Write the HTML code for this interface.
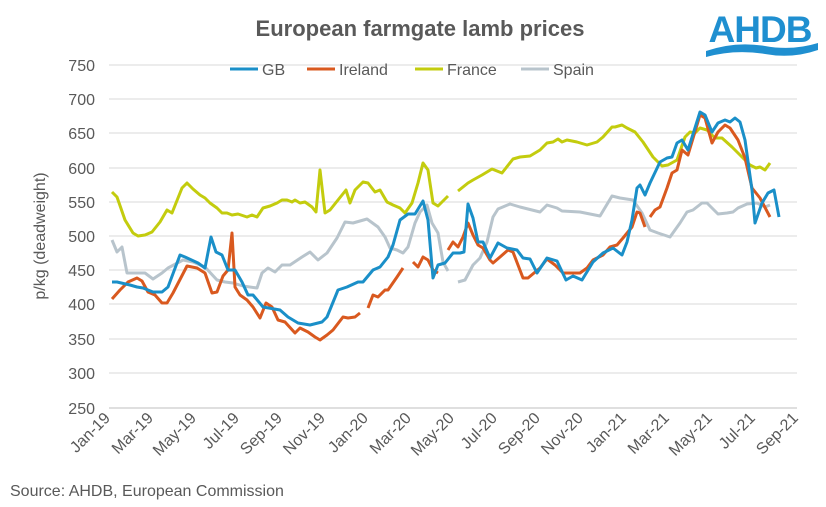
<!DOCTYPE html>
<html><head><meta charset="utf-8"><style>
body{margin:0;background:#fff;}
svg{display:block;font-family:"Liberation Sans",Arial,sans-serif;}
</style></head><body>
<svg width="826" height="507" viewBox="0 0 826 507" xmlns="http://www.w3.org/2000/svg">
<rect width="826" height="507" fill="#fff"/>
<text x="420" y="36" text-anchor="middle" font-size="22" font-weight="bold" fill="#595959">European farmgate lamb prices</text>
<!-- logo -->
<text x="760" y="42" text-anchor="middle" font-size="37" font-weight="bold" fill="#1f8fd0" letter-spacing="-1">AHDB</text>
<path d="M706 51 Q735 41 765 46 Q792 51 818 43 L818 50 Q792 59 765 54 Q735 49 706 57 Z" fill="#1f8fd0"/>
<!-- grid -->
<g stroke="#d9d9d9" stroke-width="1">
<line x1="109" y1="65" x2="797" y2="65"/><line x1="109" y1="99" x2="797" y2="99"/>
<line x1="109" y1="133" x2="797" y2="133"/><line x1="109" y1="168" x2="797" y2="168"/>
<line x1="109" y1="202" x2="797" y2="202"/><line x1="109" y1="236" x2="797" y2="236"/>
<line x1="109" y1="270" x2="797" y2="270"/><line x1="109" y1="304" x2="797" y2="304"/>
<line x1="109" y1="339" x2="797" y2="339"/><line x1="109" y1="373" x2="797" y2="373"/>
</g>
<line x1="109" y1="408" x2="797" y2="408" stroke="#bfbfbf"/>
<g font-size="16" fill="#595959" text-anchor="end">
<text x="95" y="71">750</text><text x="95" y="105">700</text><text x="95" y="139">650</text>
<text x="95" y="174">600</text><text x="95" y="208">550</text><text x="95" y="242">500</text>
<text x="95" y="276">450</text><text x="95" y="310">400</text><text x="95" y="345">350</text>
<text x="95" y="379">300</text><text x="95" y="414">250</text>
</g>
<text transform="translate(45,236) rotate(-90)" text-anchor="middle" font-size="16" fill="#595959">p/kg (deadweight)</text>
<g font-size="16" fill="#595959" text-anchor="end">
<text transform="translate(111,419) rotate(-45)">Jan-19</text>
<text transform="translate(154,419) rotate(-45)">Mar-19</text>
<text transform="translate(197,419) rotate(-45)">May-19</text>
<text transform="translate(240,419) rotate(-45)">Jul-19</text>
<text transform="translate(283,419) rotate(-45)">Sep-19</text>
<text transform="translate(326,419) rotate(-45)">Nov-19</text>
<text transform="translate(369,419) rotate(-45)">Jan-20</text>
<text transform="translate(412,419) rotate(-45)">Mar-20</text>
<text transform="translate(455,419) rotate(-45)">May-20</text>
<text transform="translate(498,419) rotate(-45)">Jul-20</text>
<text transform="translate(541,419) rotate(-45)">Sep-20</text>
<text transform="translate(584,419) rotate(-45)">Nov-20</text>
<text transform="translate(627,419) rotate(-45)">Jan-21</text>
<text transform="translate(670,419) rotate(-45)">Mar-21</text>
<text transform="translate(713,419) rotate(-45)">May-21</text>
<text transform="translate(756,419) rotate(-45)">Jul-21</text>
<text transform="translate(799,419) rotate(-45)">Sep-21</text>
</g>
<text x="10" y="496" font-size="16" fill="#595959">Source: AHDB, European Commission</text>
<!-- legend -->
<g font-size="16" fill="#595959">
<line x1="230" y1="69" x2="258" y2="69" stroke="#1a8fc8" stroke-width="3"/><text x="262" y="75">GB</text>
<line x1="307" y1="69" x2="335" y2="69" stroke="#d9591f" stroke-width="3"/><text x="339" y="75">Ireland</text>
<line x1="415" y1="69" x2="443" y2="69" stroke="#c3cc0e" stroke-width="3"/><text x="447" y="75">France</text>
<line x1="521" y1="69" x2="549" y2="69" stroke="#b8c4cc" stroke-width="3"/><text x="553" y="75">Spain</text>
</g>
<g fill="none" stroke-width="3" stroke-linejoin="round">
<g stroke="#b8c4cc">
<polyline points="112,240 117,252 122,247 127,273 137,273 145,273 153,279 162,273 168,268 183,260 193,262 205,267 217,280 225,282 233,283 243,286 257,288 262,273 268,268 275,272 282,265 290,265 302,257 310,252 318,260 327,253 337,238 345,222 353,223 367,219 378,227 385,237 390,248 397,250 403,253 408,247 415,223 420,212 427,205 432,223 438,233 443,262 448,271"/>
<polyline points="458,282 465,280 473,265 480,258 487,242 493,217 498,209 510,204 520,207 540,212 547,205 557,208 562,211 580,212 600,216 612,196 620,198 633,200 642,213 650,230 658,233 670,237 680,223 687,212 693,210 702,203 707,203 718,214 727,213 733,212 738,208 747,204 757,203 765,207 770,205"/>
</g>
<g stroke="#c3cc0e">
<polyline points="112,192 117,197 125,220 133,233 138,236 145,235 152,232 160,222 167,210 172,213 182,188 187,183 193,189 200,195 205,198 210,203 217,208 222,213 227,213 232,215 238,214 247,217 252,215 257,217 263,208 270,206 277,203 282,200 287,200 292,202 295,200 300,203 305,202 312,207 316,212 320,170 325,213 330,210 338,200 346,190 350,203 355,190 363,182 368,183 375,192 380,190 387,202 393,205 400,208 405,213 412,203 418,183 423,163 428,170 433,203 438,206 448,196"/>
<polyline points="458,191 468,183 473,180 482,175 492,169 502,173 513,159 520,157 530,156 540,150 547,143 553,142 558,139 562,142 567,140 577,142 587,145 597,142 603,137 612,127 615,127 622,125 627,128 635,132 643,142 653,157 662,166 668,165 677,160 685,137 690,132 695,133 700,128 707,130 715,138 722,138 732,147 742,157 750,165 756,168 760,167 765,170 770,163"/>
</g>
<g stroke="#d9591f">
<polyline points="112,299 120,290 128,282 137,278 142,281 148,292 155,295 162,303 167,303 173,293 187,266 197,268 205,273 212,293 217,292 223,276 228,270 232,233 235,287 240,295 247,300 253,307 260,318 266,303 272,307 278,320 285,322 295,333 300,328 308,332 315,337 320,340 327,335 333,330 343,317 348,318 355,317 360,313"/>
<polyline points="368,308 373,295 378,297 385,290 388,290 397,277 403,268"/>
<polyline points="413,262 418,267 423,257 428,260 433,270 438,273"/>
<polyline points="448,250 453,242 458,247 463,237 468,223 473,235 478,245 483,248 490,260 493,263 500,257 508,250 513,252 523,278 528,278 540,268 547,259 555,265 563,273 573,273 580,273 587,268 593,260 603,255 610,247 617,245 623,238 632,227 637,212 640,213 645,227"/>
<polyline points="650,217 655,210 660,207 667,188 672,173 677,170 682,150 688,155 700,115 705,118 712,143 718,132 725,125 730,128 738,140 745,158 752,188 760,198 770,217"/>
</g>
<polyline stroke="#1a8fc8" points="112,282 117,282 130,285 137,287 143,288 153,292 162,292 168,287 180,255 185,257 198,263 205,268 211,237 216,252 222,255 228,270 235,270 242,282 248,295 253,295 263,307 280,310 288,317 298,323 310,325 322,322 327,317 338,290 347,287 358,282 363,282 373,270 380,267 388,257 393,245 400,220 408,214 415,214 423,201 428,220 433,278 438,265 445,263 453,253 460,253 464,252 468,204 473,218 478,242 483,242 490,258 498,243 507,248 517,250 523,258 530,259 537,273 547,258 557,261 566,280 573,276 582,280 593,262 603,253 613,248 622,255 627,242 632,220 637,188 640,185 645,195 650,183 660,162 667,158 672,157 677,143 682,140 688,150 700,112 705,115 712,132 718,123 725,120 730,122 735,118 740,122 745,140 752,190 755,223 762,203 768,193 774,190 779,217"/>
</g>
</svg>
</body></html>
